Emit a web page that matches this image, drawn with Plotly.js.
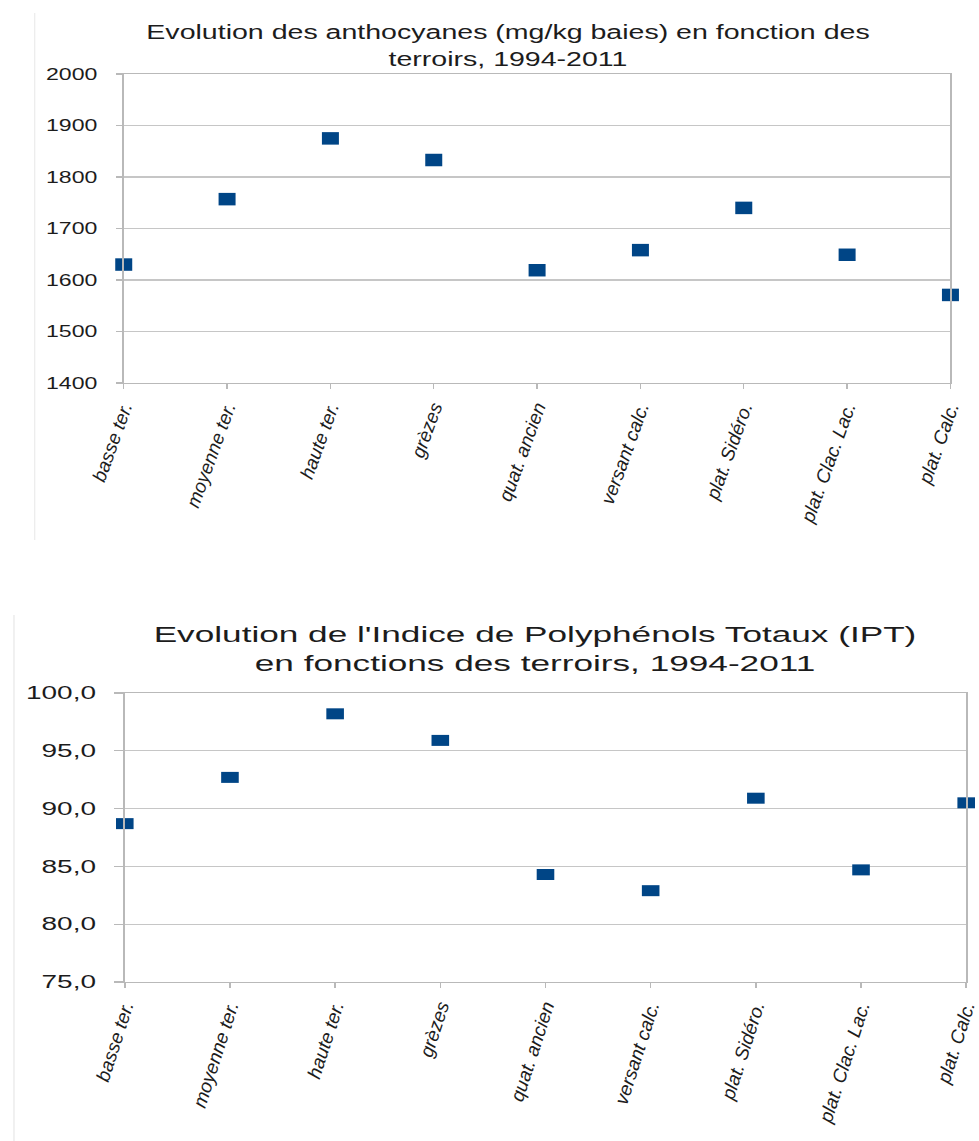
<!DOCTYPE html>
<html>
<head>
<meta charset="utf-8">
<script src="https://cdn.plot.ly/plotly-3.0.1.min.js"></script>
<style>
  html, body { margin: 0; padding: 0; background: #ffffff; overflow: hidden; }
  .chart { position: absolute; left: 0; transform-origin: 0 0; }
</style>
</head>
<body>
<div id="c1" class="chart"></div>
<div id="c2" class="chart"></div>
<script>
// ---- data ----
const terroirs = ["basse ter.", "moyenne ter.", "haute ter.", "grèzes", "quat. ancien",
                  "versant calc.", "plat. Sidéro.", "plat. Clac. Lac.", "plat. Calc."];
const anthocyanes = [1630, 1757, 1875, 1833, 1619, 1658, 1740, 1649, 1571];
const ipt = [88.7, 92.7, 98.2, 95.9, 84.3, 82.9, 90.9, 84.7, 90.5];
const title1 = "Evolution des anthocyanes (mg/kg baies) en fonction des<br>terroirs, 1994-2011";
const title2 = "Evolution de l'Indice de Polyphénols Totaux (IPT)<br>en fonctions des terroirs, 1994-2011";
const yTicks1 = [1400, 1500, 1600, 1700, 1800, 1900, 2000];
const yTicks2 = [75, 80, 85, 90, 95, 100];

// ---- style ----
const PAGE_W = 979;
const blue = "#004586";
const grid = "#c6c6c6";
const axisCol = "#b9b9b9";
const frameCol = "#ededed";
const txt = "#1c1c1c";
const fam = "Liberation Sans, Arial, sans-serif";

// The reference charts are horizontally stretched pictures: each chart is laid out
// at a narrower natural width and stretched to the page width; the rotated category
// labels are counter-stretched so that they keep normal proportions.
function makeChart(id, top, height, stretch, pageMargins, opts) {
  const W = Math.round(PAGE_W / stretch);
  const s = PAGE_W / W;
  const el = document.getElementById(id);
  el.style.top = top + "px";
  el.style.width = W + "px";
  el.style.height = height + "px";
  el.style.transform = "scaleX(" + s + ")";
  const l = pageMargins.l / s, r = pageMargins.r / s;
  const plotW = W - l - r;
  const fx = (px) => (px / s - l) / plotW;
  const plotH = height - pageMargins.t - pageMargins.b;
  const fy = (py) => 1 - (py - pageMargins.t) / plotH;

  // page angle a -> natural angle so that, once stretched, labels show angle a
  const pageAng = opts.tickAngle * Math.PI / 180;
  const natAng = Math.atan(Math.tan(pageAng) * s) * 180 / Math.PI;

  const trace = {
    x: terroirs, y: opts.values, type: "scatter", mode: "markers", cliponaxis: false,
    marker: {symbol: "square", size: opts.markerSize, color: blue, line: {width: 0}}
  };
  const layout = {
    width: W, height: height,
    margin: {l: l, r: r, t: pageMargins.t, b: pageMargins.b, autoexpand: false},
    separators: opts.separators,
    paper_bgcolor: "#ffffff", plot_bgcolor: "#ffffff",
    showlegend: false,
    title: {text: opts.title, x: opts.titleX / PAGE_W, xref: "container", xanchor: "center",
            y: 1 - opts.titleTop / height, yref: "container", yanchor: "top",
            font: {family: fam, size: opts.titleSize, color: txt}},
    xaxis: {
      type: "category", range: [0, 8], showgrid: false,
      showline: true, linecolor: axisCol, linewidth: 1, mirror: true,
      ticks: "outside", ticklen: 5, tickcolor: axisCol, tickwidth: 1,
      tickangle: opts.tickAngle,
      tickfont: {family: fam, size: opts.xTickSize, color: txt, style: "italic"},
      automargin: false, fixedrange: true
    },
    yaxis: {
      range: opts.range, tickvals: opts.yTicks, tickformat: opts.yFormat,
      showgrid: true, gridcolor: grid, gridwidth: 1.2,
      showline: true, linecolor: axisCol, linewidth: 1, mirror: true, zeroline: false,
      ticks: "outside", ticklen: opts.yTickLen, tickcolor: axisCol, tickwidth: 1.2,
      ticklabelstandoff: opts.yStandoff,
      tickfont: {family: fam, size: opts.yTickSize, color: txt},
      automargin: false, fixedrange: true
    },
    shapes: [
      {type: "line", xref: "paper", yref: "paper",
       x0: fx(opts.frame.x), x1: fx(opts.frame.x), y0: fy(opts.frame.y0), y1: fy(opts.frame.y1),
       line: {color: frameCol, width: 1}, layer: "below"}
    ]
  };
  return Plotly.newPlot(id, [trace], layout, {staticPlot: true, displayModeBar: false})
    .then(function (gd) {
      gd.querySelectorAll(".xtick text").forEach(function (t) {
        const tr = t.getAttribute("transform") || "";
        const m = tr.match(/translate\(\s*([-\d.eE]+)/);
        const cx = (m ? parseFloat(m[1]) : 0) + (parseFloat(t.getAttribute("x")) || 0);
        t.setAttribute("transform",
          "translate(" + cx + ",0) scale(" + (1 / s) + ",1) translate(" + (-cx) + ",0) " + tr);
      });
      return gd;
    });
}

makeChart("c1", 0, 560, 1.36, {l: 124, r: 29, t: 74, b: 177}, {
  values: anthocyanes, title: title1, titleX: 508, titleTop: 39, titleSize: 21,
  range: [1400, 2000], yTicks: yTicks1, yFormat: "d", separators: ".,",
  markerSize: 12.5, tickAngle: -70, xTickSize: 19, yTickSize: 17, yTickLen: 5, yStandoff: 10,
  frame: {x: 35, y0: 13, y1: 540}
});

makeChart("c2", 560, 581, 1.6, {l: 124, r: 12, t: 133, b: 159}, {
  values: ipt, title: title2, titleX: 535, titleTop: 82, titleSize: 22,
  range: [75, 100], yTicks: yTicks2, yFormat: ".1f", separators: ", ",
  markerSize: 11, tickAngle: -72, xTickSize: 19, yTickSize: 17.5, yTickLen: 5.5, yStandoff: 8,
  frame: {x: 13, y0: 55, y1: 581}
});
</script>
</body>
</html>
